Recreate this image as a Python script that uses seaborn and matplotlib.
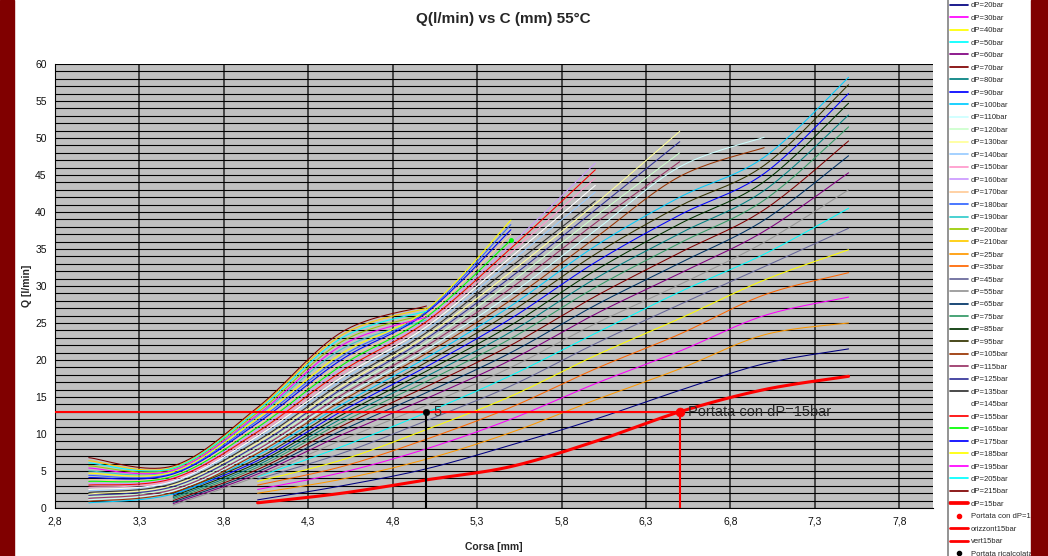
import numpy as np
import pandas as pd
import matplotlib
matplotlib.use("Agg")
import matplotlib.pyplot as plt
import seaborn as sns
from matplotlib.lines import Line2D
from matplotlib.patches import Rectangle
from matplotlib.ticker import MultipleLocator, FixedLocator

nan = np.nan

# stroke positions [mm] shared by all curves
corsa_mm = [3.0, 3.5, 4.0, 4.5, 5.0, 5.5, 6.0, 6.5, 7.0, 7.5]

# flow [l/min] per pressure drop, nan where the curve is not defined
q_dp15 = [nan, nan, 0.7, 2.0, 3.8, 5.6, 9.0, 13.0, 16.0, 17.8]
q_dp20 = [nan, nan, 1.1, 3.0, 5.3, 8.5, 12.0, 15.9, 19.5, 21.5]
q_dp25 = [nan, nan, 2.0, 3.9, 6.6, 10.2, 14.6, 18.8, 23.4, 25.0]
q_dp30 = [nan, nan, 2.5, 4.8, 8.0, 12.0, 16.8, 21.2, 26.0, 28.5]
q_dp35 = [nan, nan, 3.1, 5.6, 9.3, 13.6, 18.8, 23.5, 28.8, 31.8]
q_dp40 = [nan, nan, 3.6, 6.5, 10.6, 15.1, 20.6, 25.6, 30.8, 34.9]
q_dp45 = [nan, nan, 3.9, 7.4, 11.8, 16.5, 22.2, 27.5, 32.6, 37.8]
q_dp50 = [nan, nan, 4.2, 8.3, 12.9, 17.9, 23.6, 29.2, 34.3, 40.5]
q_dp55 = [nan, 0.4, 4.3, 9.2, 13.9, 19.0, 24.9, 30.2, 35.9, 43.0]
q_dp60 = [nan, 0.6, 4.6, 9.9, 14.8, 20.0, 26.2, 31.7, 37.4, 45.3]
q_dp65 = [nan, 0.8, 4.9, 10.5, 15.6, 21.0, 27.4, 33.1, 38.9, 47.6]
q_dp70 = [nan, 1.0, 5.2, 11.1, 16.4, 22.0, 28.6, 34.5, 40.3, 49.6]
q_dp75 = [nan, 1.2, 5.5, 11.6, 17.1, 22.9, 29.8, 35.8, 41.6, 51.5]
q_dp80 = [nan, 1.4, 5.8, 12.1, 17.8, 23.8, 31.0, 37.1, 42.9, 53.1]
q_dp85 = [nan, 1.6, 6.1, 12.6, 18.5, 24.7, 32.1, 38.4, 44.1, 54.7]
q_dp90 = [nan, 1.8, 6.4, 13.1, 19.1, 25.6, 33.2, 39.6, 45.2, 56.0]
q_dp95 = [nan, 2.0, 6.7, 13.6, 19.7, 26.5, 34.3, 40.8, 46.3, 57.2]
q_dp100 = [0.7, 1.9, 7.1, 14.0, 20.3, 27.3, 35.4, 42.0, 47.4, 58.2]
q_dp105 = [0.9, 2.1, 7.4, 14.5, 20.9, 28.1, 36.5, 44.8, 48.7, nan]
q_dp110 = [1.1, 2.3, 7.7, 14.9, 21.4, 28.9, 37.5, 46.1, 50.1, nan]
q_dp115 = [1.3, 2.5, 7.9, 15.3, 21.9, 29.7, 38.5, 46.8, nan, nan]
q_dp120 = [1.5, 2.7, 8.2, 15.7, 22.4, 30.5, 39.4, 48.0, nan, nan]
q_dp125 = [1.7, 2.9, 8.5, 16.1, 22.9, 31.2, 40.3, 49.5, nan, nan]
q_dp130 = [1.9, 3.1, 8.8, 16.5, 23.3, 31.9, 41.1, 50.9, nan, nan]
q_dp135 = [2.1, 3.3, 9.1, 16.9, 23.7, 32.6, 41.5, nan, nan, nan]
q_dp140 = [2.3, 3.5, 9.4, 17.3, 24.1, 33.3, 42.7, nan, nan, nan]
q_dp145 = [2.5, 3.6, 9.7, 17.7, 24.5, 33.9, 43.6, nan, nan, nan]
q_dp150 = [2.8, 3.8, 10.0, 18.1, 24.9, 34.5, 44.6, nan, nan, nan]
q_dp155 = [3.1, 4.0, 10.3, 18.5, 25.2, 35.1, 45.7, nan, nan, nan]
q_dp160 = [3.3, 4.1, 10.6, 18.9, 25.5, 35.6, 46.6, nan, nan, nan]
q_dp165 = [3.6, 4.3, 10.9, 19.3, 25.8, 36.2, nan, nan, nan, nan]
q_dp170 = [3.8, 4.4, 11.2, 19.7, 26.1, 37.0, nan, nan, nan, nan]
q_dp175 = [4.1, 4.6, 11.5, 20.1, 26.4, 37.6, nan, nan, nan, nan]
q_dp180 = [4.4, 4.7, 11.8, 20.5, 26.6, 38.3, nan, nan, nan, nan]
q_dp185 = [4.7, 4.9, 12.1, 20.9, 26.8, 38.9, nan, nan, nan, nan]
q_dp190 = [5.0, 5.0, 12.4, 21.5, 25.4, nan, nan, nan, nan, nan]
q_dp195 = [5.4, 5.1, 12.6, 22.0, 25.8, nan, nan, nan, nan, nan]
q_dp200 = [5.7, 5.3, 12.9, 22.5, 26.2, nan, nan, nan, nan, nan]
q_dp205 = [6.1, 5.4, 13.2, 23.0, 26.6, nan, nan, nan, nan, nan]
q_dp210 = [6.4, 5.5, 13.4, 23.4, 27.0, nan, nan, nan, nan, nan]
q_dp215 = [6.8, 5.7, 13.6, 23.8, 27.3, nan, nan, nan, nan, nan]

# working point at dP=15 bar and recalculated flow
punto_x = [6.5]
punto_q = [13.0]
orizz_x = [2.8, 6.5]
orizz_q = [13.0, 13.0]
vert_x = [6.5, 6.5]
vert_q = [0.0, 13.0]
ricalc_x = [5.0, 5.0]
ricalc_q = [0.0, 13.0]
ricalc_label = "5"

# series in workbook order
serie = [
    (20, q_dp20), (30, q_dp30), (40, q_dp40), (50, q_dp50), (60, q_dp60),
    (70, q_dp70), (80, q_dp80), (90, q_dp90), (100, q_dp100), (110, q_dp110),
    (120, q_dp120), (130, q_dp130), (140, q_dp140), (150, q_dp150),
    (160, q_dp160), (170, q_dp170), (180, q_dp180), (190, q_dp190),
    (200, q_dp200), (210, q_dp210),
    (25, q_dp25), (35, q_dp35), (45, q_dp45), (55, q_dp55), (65, q_dp65),
    (75, q_dp75), (85, q_dp85), (95, q_dp95), (105, q_dp105), (115, q_dp115),
    (125, q_dp125), (135, q_dp135), (145, q_dp145), (155, q_dp155),
    (165, q_dp165), (175, q_dp175), (185, q_dp185), (195, q_dp195),
    (205, q_dp205), (215, q_dp215),
    (15, q_dp15),
]

colori = {
    20: "#000080", 30: "#FF00FF", 40: "#FFFF00", 50: "#00FFFF", 60: "#800080",
    70: "#800000", 80: "#008080", 90: "#0000FF", 100: "#00CCFF", 110: "#CCFFFF",
    120: "#CCFFCC", 130: "#FFFF99", 140: "#99CCFF", 150: "#FF99CC",
    160: "#CC99FF", 170: "#FFCC99", 180: "#3366FF", 190: "#33CCCC",
    200: "#99CC00", 210: "#FFCC00",
    25: "#FF9900", 35: "#FF6600", 45: "#666699", 55: "#969696", 65: "#003366",
    75: "#339966", 85: "#003300", 95: "#333300", 105: "#993300", 115: "#993366",
    125: "#333399", 135: "#333333", 145: "#FFFFFF", 155: "#FF0000",
    165: "#00FF00", 175: "#0000FF", 185: "#FFFF00", 195: "#FF00FF",
    205: "#00FFFF", 215: "#800000",
    15: "#FF0000",
}


def smooth(xs, ys, n=20):
    """Bezier smoothing through the points, like a spreadsheet smoothed line."""
    pts = np.column_stack([xs, ys]).astype(float)
    if len(pts) < 2:
        return pts
    out = []
    for i in range(len(pts) - 1):
        p0 = pts[i - 1] if i > 0 else pts[i]
        p1, p2 = pts[i], pts[i + 1]
        p3 = pts[i + 2] if i + 2 < len(pts) else pts[i + 1]
        c1 = p1 + (p2 - p0) / 6.0
        c2 = p2 - (p3 - p1) / 6.0
        t = np.linspace(0, 1, n, endpoint=(i == len(pts) - 2))[:, None]
        out.append((1 - t) ** 3 * p1 + 3 * (1 - t) ** 2 * t * c1
                   + 3 * (1 - t) * t ** 2 * c2 + t ** 3 * p2)
    return np.vstack(out)


sns.set_style("white")
plt.rcParams["font.family"] = ["Liberation Sans", "DejaVu Sans"]

fig = plt.figure(figsize=(10.48, 5.56), dpi=100, facecolor="white")
ax = fig.add_axes([55 / 1048, 1 - 508 / 556, (933 - 55) / 1048, (508 - 64) / 556])
ax.set_facecolor("#C0C0C0")

handles, labels = [], []
for dp, valori in serie:
    x = np.array(corsa_mm)
    q = np.array(valori, dtype=float)
    ok = ~np.isnan(q)
    curva = smooth(x[ok], q[ok])
    df = pd.DataFrame({"corsa": curva[:, 0], "portata": curva[:, 1]})
    lw = 2.2 if dp == 15 else 0.75
    sns.lineplot(data=df, x="corsa", y="portata", ax=ax, color=colori[dp],
                 lw=lw, sort=False, estimator=None, legend=False, zorder=3)
    handles.append(Line2D([], [], color=colori[dp], lw=lw + 0.5))
    labels.append(f"dP={dp}bar")

# marker on the last point of the 165 bar curve
q165 = np.array(q_dp165, dtype=float)
ok165 = ~np.isnan(q165)
ax.plot(np.array(corsa_mm)[ok165][-1:], q165[ok165][-1:], "o", ms=2.5,
        color="#00FF00", zorder=4)

# working point lines
sns.lineplot(x=orizz_x, y=orizz_q, ax=ax, color="#FF0000", lw=1.5,
             sort=False, estimator=None, zorder=5)
sns.lineplot(x=vert_x, y=vert_q, ax=ax, color="#FF0000", lw=1.5,
             sort=False, estimator=None, zorder=5)
sns.scatterplot(x=punto_x, y=punto_q, ax=ax, color="#FF0000", s=40,
                edgecolor="#FF0000", zorder=6)
ax.text(punto_x[0] + 0.05, punto_q[0], "Portata con dP=15bar", fontsize=10.5,
        color="#2a2a2a", va="center", ha="left", zorder=7)

sns.lineplot(x=ricalc_x, y=ricalc_q, ax=ax, color="black", lw=1.5,
             sort=False, estimator=None, zorder=5)
sns.scatterplot(x=ricalc_x[1:], y=ricalc_q[1:], ax=ax, color="black", s=22,
                edgecolor="black", zorder=6)
ax.text(ricalc_x[1] + 0.04, ricalc_q[1], ricalc_label, fontsize=10.5,
        color="#333333", va="center", ha="left", zorder=7)

handles += [
    Line2D([], [], ls="none", marker="o", ms=3, color="#FF0000"),
    Line2D([], [], color="#FF0000", lw=2),
    Line2D([], [], color="#FF0000", lw=2),
    Line2D([], [], ls="none", marker="o", ms=3, color="black"),
]
labels += ["Portata con dP=15bar", "orizzont15bar", "vert15bar",
           "Portata ricalcolata"]

# axes, ticks and grid
ax.set_xlim(2.8, 8.0)
ax.set_ylim(0, 60)
xt = np.arange(2.8, 7.81, 0.5)
ax.xaxis.set_major_locator(FixedLocator(xt))
ax.set_xticklabels([f"{v:.1f}".replace(".", ",") for v in xt])
ax.yaxis.set_major_locator(MultipleLocator(5))
ax.yaxis.set_minor_locator(MultipleLocator(1))
ax.tick_params(axis="both", which="major", direction="out", length=4,
               width=0.8, color="black", labelsize=7.5, labelcolor="#111111",
               pad=2)
ax.tick_params(axis="y", which="minor", length=0)
ax.set_axisbelow(True)
ax.grid(axis="y", which="both", color="black", lw=0.8)
ax.grid(axis="x", which="major", color="#3a3a3a", lw=1.3)
for s in ("top", "right"):
    ax.spines[s].set_visible(False)
for s in ("left", "bottom"):
    ax.spines[s].set_color("black")
    ax.spines[s].set_linewidth(0.8)

ax.set_xlabel("Corsa [mm]", fontsize=7.5, fontweight="bold", labelpad=11)
ax.set_ylabel("Q [l/min]", fontsize=7.5, fontweight="bold", labelpad=2)
fig.text(503 / 1048, 1 - 19 / 556, "Q(l/min) vs C (mm) 55°C", fontsize=11,
         fontweight="bold", ha="center", va="center")

leg = fig.legend(handles, labels, loc="upper left",
                 bbox_to_anchor=(948 / 1048, 1.0006), fontsize=5.5,
                 frameon=True, fancybox=False, edgecolor="none",
                 facecolor="white", framealpha=1, handlelength=2.3,
                 handletextpad=0.35, labelspacing=0.67, borderpad=0.3,
                 borderaxespad=0)

# gray left edge of the legend box, running over the full height
fig.lines.append(Line2D([948 / 1048, 948 / 1048], [0, 1],
                        transform=fig.transFigure, color="#808080", lw=1.2,
                        zorder=9))

# dark red frame at both sides
fig.patches.append(Rectangle((0, 0), 14 / 1048, 1, transform=fig.transFigure,
                             color="#800000", zorder=10))
fig.patches.append(Rectangle((1031 / 1048, 0), 17 / 1048, 1,
                             transform=fig.transFigure, color="#800000",
                             zorder=10))

fig.savefig("out.png", dpi=100, facecolor="white")
